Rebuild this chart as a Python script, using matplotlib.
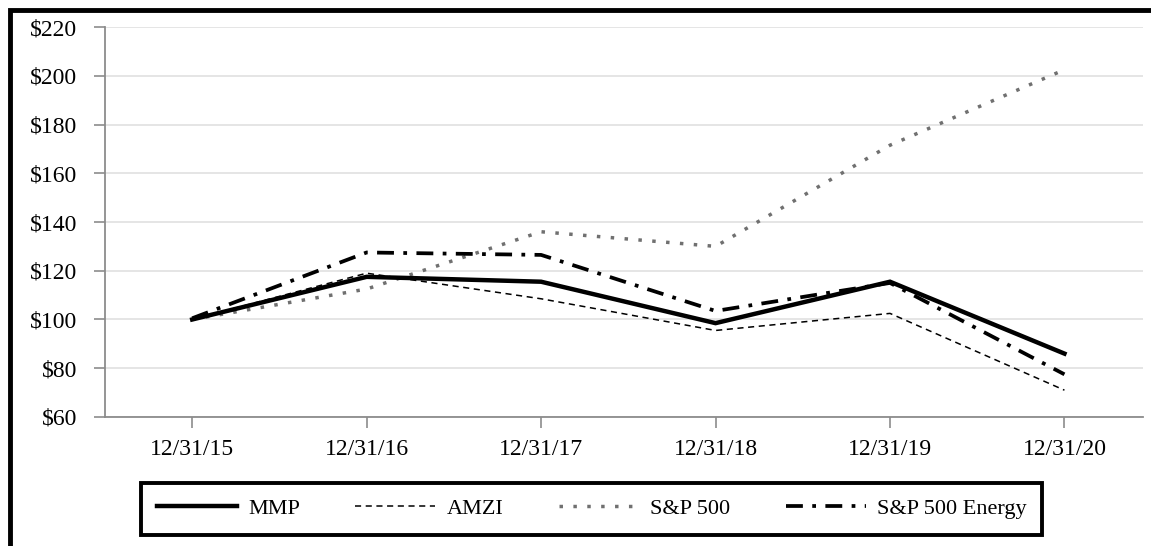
import matplotlib.pyplot as plt
from matplotlib.patches import Rectangle

plt.rcParams['font.family'] = ['Liberation Serif', 'DejaVu Serif']

# ---------------------------------------------------------
# DATA
# ---------------------------------------------------------
dates = ["12/31/15", "12/31/16", "12/31/17", "12/31/18", "12/31/19", "12/31/20"]
mmp = [100, 117.5, 115.5, 98.5, 115.5, 86]
amzi = [100, 119, 108.5, 95.5, 102.5, 71]
sp500 = [100, 112.5, 136, 130, 171.5, 202.5]
sp500_energy = [100.5, 127.5, 126.5, 103.5, 115, 77.5]
y_ticks = [60, 80, 100, 120, 140, 160, 180, 200, 220]

# ---------------------------------------------------------
# FIGURE
# ---------------------------------------------------------
fig = plt.figure(figsize=(11.51, 5.46), dpi=100)
ax = fig.add_axes([0.0912, 0.2363, 0.9018, 0.7142])

x = list(range(len(dates)))
grey = "#8c8c8c"

ax.plot(x, mmp, color="black", lw=3.2, solid_joinstyle="miter", label="MMP", zorder=5)
ax.plot(x, amzi, color="black", lw=1.1, dashes=(4, 3), label="AMZI", zorder=4)
ax.plot(x, sp500, color="#707070", lw=2.5, dashes=(1, 3), label="S&P 500", zorder=3)
ax.plot(x, sp500_energy, color="black", lw=2.7, dashes=(4.5, 2.5, 1, 2.5), label="S&P 500 Energy", zorder=4)

ax.set_xlim(-0.5, 5.45)
ax.set_ylim(60, 220)
ax.set_xticks(x)
ax.set_xticklabels(dates)
ax.set_yticks(y_ticks)
ax.set_yticklabels([f"${v}" for v in y_ticks])
ax.tick_params(axis="both", labelsize=17, colors=grey, labelcolor="black", length=8, width=1.2)
ax.tick_params(axis="y", pad=12)
ax.tick_params(axis="x", pad=8)

ax.grid(axis="y", color="#e3e3e3", lw=1.3)
ax.set_axisbelow(True)
for side in ["top", "right"]:
    ax.spines[side].set_visible(False)
for side in ["left", "bottom"]:
    ax.spines[side].set_color(grey)
    ax.spines[side].set_linewidth(1.3)

leg = fig.legend(loc="center", bbox_to_anchor=(0.514, 0.068), ncol=4, frameon=True,
                 fancybox=False, framealpha=1, fontsize=16, handlelength=3.6,
                 columnspacing=2.5, borderpad=0.7, handletextpad=0.5)
leg.get_frame().set_edgecolor("black")
leg.get_frame().set_linewidth(2.8)

# outer frame, cut at right and bottom like the source
fig.patches.append(Rectangle((0.0085, -0.1), 1.2, 1.082, transform=fig.transFigure,
                             fill=False, edgecolor="black", lw=3.5, clip_on=False))

fig.savefig("out.png", dpi=100)
